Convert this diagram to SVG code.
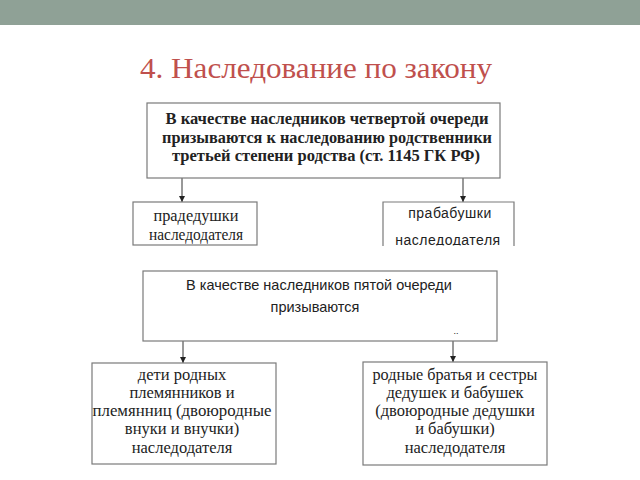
<svg xmlns="http://www.w3.org/2000/svg" width="640" height="480" viewBox="0 0 640 480">
<style>
.box{fill:#fff;stroke:#7a7a7a;stroke-width:1.2}
.conn{stroke:#333;stroke-width:1;fill:none}
.serif{font-family:"Liberation Serif","Times New Roman",serif;fill:#222;text-anchor:middle}
.sans{font-family:"Liberation Sans",Arial,sans-serif;fill:#222;text-anchor:middle}
</style>
<defs>
<marker id="arr" viewBox="0 0 10 10" refX="10" refY="5" markerWidth="6" markerHeight="6" orient="auto" markerUnits="userSpaceOnUse">
<path d="M0,0 L10,5 L0,10 z" fill="#222"/>
</marker>
<clipPath id="clipR"><rect x="383" y="202" width="132" height="43.5"/></clipPath>
</defs>
<rect x="0" y="0" width="640" height="25" fill="#8fa196"/>
<text x="316" y="78" font-family="'Liberation Serif','Times New Roman',serif" font-size="29" fill="#c0504d" text-anchor="middle" textLength="352" lengthAdjust="spacingAndGlyphs">4. Наследование по закону</text>

<g id="connectors">
<line class="conn" x1="182" y1="178" x2="182" y2="202" marker-end="url(#arr)"/>
<line class="conn" x1="463" y1="178" x2="463" y2="202" marker-end="url(#arr)"/>
<line class="conn" x1="183" y1="341" x2="183" y2="363" marker-end="url(#arr)"/>
<line class="conn" x1="453" y1="341" x2="453" y2="362" marker-end="url(#arr)"/>
</g>

<g id="n-fourth">
<rect class="box" x="147" y="103" width="353" height="75"/>
<text class="serif" font-weight="bold" font-size="16.3" x="327" y="124" textLength="323" lengthAdjust="spacingAndGlyphs">В качестве наследников четвертой очереди</text>
<text class="serif" font-weight="bold" font-size="16.3" x="327" y="143" textLength="330" lengthAdjust="spacingAndGlyphs">призываются к наследованию родственники</text>
<text class="serif" font-weight="bold" font-size="16.3" x="326" y="161" textLength="308" lengthAdjust="spacingAndGlyphs">третьей степени родства (ст. 1145 ГК РФ)</text>
</g>

<g id="n-pradedushki">
<rect class="box" x="133" y="202" width="124" height="43"/>
<text class="serif" font-size="16.5" x="196" y="221" textLength="85" lengthAdjust="spacingAndGlyphs">прадедушки</text>
<text class="serif" font-size="16.5" x="196" y="240" textLength="94" lengthAdjust="spacingAndGlyphs">наследодателя</text>
</g>

<g id="n-prababushki">
<path class="box" d="M383,246 L383,202 L514,202 L514,246"/>
<g clip-path="url(#clipR)">
<text class="sans" font-size="14" x="450" y="218" letter-spacing="0.5">прабабушки</text>
<text class="sans" font-size="14" x="448" y="244.5" letter-spacing="0.5">наследодателя</text>
</g>
</g>

<g id="n-fifth">
<rect class="box" x="143" y="271" width="354" height="70"/>
<text class="sans" font-size="14.5" x="319" y="290">В качестве наследников пятой очереди</text>
<text class="sans" font-size="14.5" x="315" y="312">призываются</text>
<text class="sans" font-size="9" fill="#aaa" x="456" y="334">..</text>
</g>

<g id="n-deti">
<rect class="box" x="92" y="363" width="184" height="101"/>
<text class="serif" font-size="16.5" x="182" y="380">дети родных</text>
<text class="serif" font-size="16.5" x="182" y="398">племянников и</text>
<text class="serif" font-size="16.5" x="182" y="416" textLength="179" lengthAdjust="spacingAndGlyphs">племянниц (двоюродные</text>
<text class="serif" font-size="16.5" x="182" y="434">внуки и внучки)</text>
<text class="serif" font-size="16.5" x="182" y="453">наследодателя</text>
</g>

<g id="n-brothers">
<rect class="box" x="363" y="362" width="184" height="103"/>
<text class="serif" font-size="16.5" x="455" y="380" textLength="165" lengthAdjust="spacingAndGlyphs">родные братья и сестры</text>
<text class="serif" font-size="16.5" x="455" y="398">дедушек и бабушек</text>
<text class="serif" font-size="16.5" x="455" y="416">(двоюродные дедушки</text>
<text class="serif" font-size="16.5" x="455" y="434">и бабушки)</text>
<text class="serif" font-size="16.5" x="455" y="453">наследодателя</text>
</g>
</svg>
